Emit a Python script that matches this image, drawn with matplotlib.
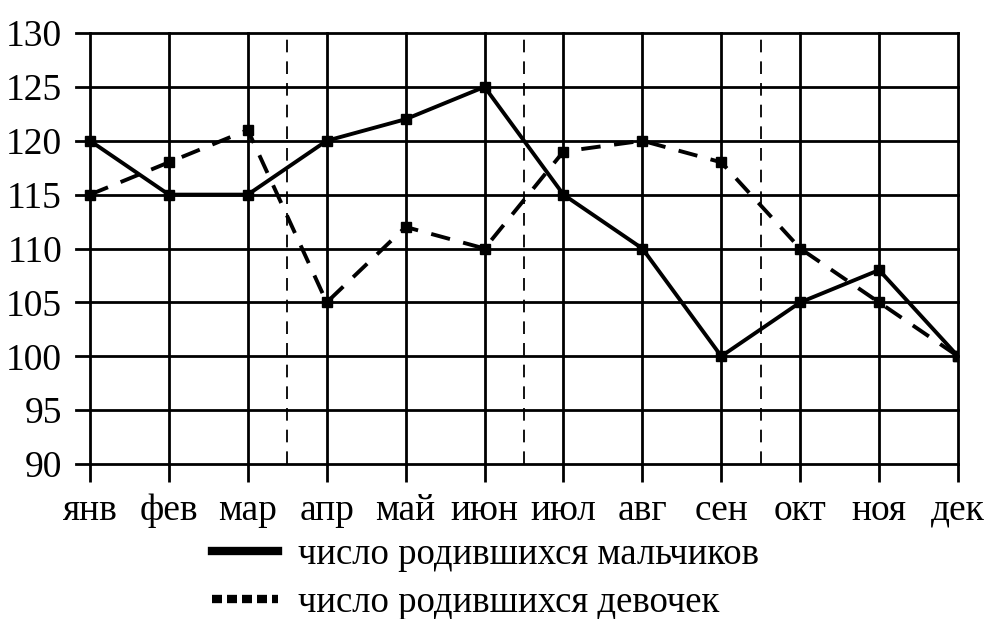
import matplotlib
matplotlib.use("Agg")
import matplotlib.pyplot as plt
from matplotlib.lines import Line2D

plt.rcParams['font.family'] = ['Liberation Serif', 'DejaVu Serif']

# data
months = ["янв", "фев", "мар", "апр", "май", "июн",
          "июл", "авг", "сен", "окт", "ноя", "дек"]
boys = [120, 115, 115, 120, 122, 125, 115, 110, 100, 105, 108, 100]
girls = [115, 118, 121, 105, 112, 110, 119, 120, 118, 110, 105, 100]
y_ticks = [90, 95, 100, 105, 110, 115, 120, 125, 130]
quarter_marks = [2.5, 5.5, 8.5]
labels = ["число родившихся мальчиков", "число родившихся девочек"]

fig = plt.figure(figsize=(9.9, 6.19), dpi=100)
ax = fig.add_axes([76/990, 1 - 464/619, (958 - 76)/990, (464 - 33)/619])

x = list(range(len(months)))

# grid
for yt in y_ticks:
    ax.axhline(yt, color='black', lw=2, zorder=1, clip_on=False)
for xi in x:
    ax.axvline(xi, color='black', lw=2, zorder=1, clip_on=False)
for q in quarter_marks:
    ax.axvline(q, color='black', lw=1.3, dashes=(7, 5), zorder=1)

ax.plot(x, boys, color='black', lw=2.8, marker='s', ms=7, zorder=3)
ax.plot(x, girls, color='black', lw=2.8, dashes=(5, 3.5), marker='s', ms=7, zorder=3)

ax.set_xlim(-14/79, 11)
ax.set_ylim(90, 130)
for s in ax.spines.values():
    s.set_visible(False)

ax.set_yticks(y_ticks)
ax.set_xticks(x)
ax.set_xticklabels(months)
ax.tick_params(axis='y', length=0, pad=10, labelsize=27)
ax.tick_params(axis='x', length=13, width=2, pad=8, labelsize=27)

handles = [Line2D([], [], color='black', lw=6),
           Line2D([], [], color='black', lw=6, dashes=(1.2, 0.6))]
fig.legend(handles, labels, loc='upper left', bbox_to_anchor=(212/990, 1 - 537/619),
           frameon=False, fontsize=26.5, handlelength=1.8, handletextpad=0.55,
           labelspacing=0.38, borderpad=0, borderaxespad=0)

fig.savefig("out.png", dpi=100)
